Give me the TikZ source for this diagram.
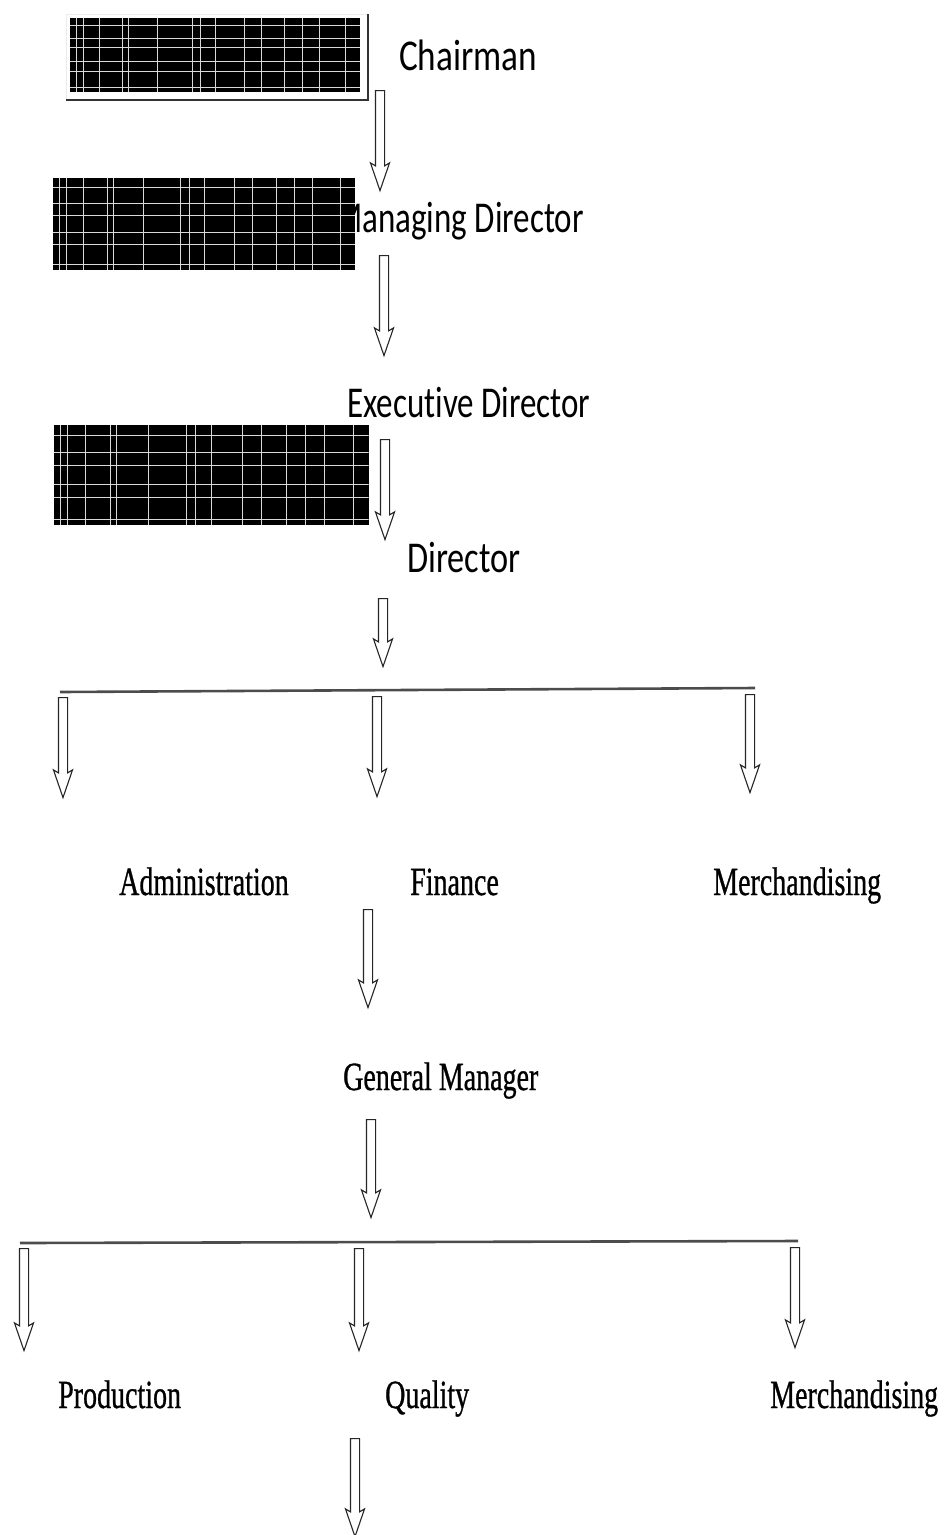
\documentclass[tikz,border=0pt]{standalone}
\usepackage{fontspec}
\usepackage{graphicx}
\setmainfont[FakeBold=0.9]{Liberation Serif}
\newfontfamily\calib[RawFeature={-liga;-dlig;-calt}]{Carlito}
\usetikzlibrary{shapes.arrows,calc}

\tikzset{
  x=1pt, y=-1pt,
  % hollow block arrow pointing downwards
  downarrow/.style={single arrow, draw=black!85, fill=white, line width=1.1pt,
    rotate=-90, inner xsep=0pt, inner ysep=4pt, text height=0pt, text depth=0pt,
    single arrow head extend=5pt, single arrow tip angle=38,
    single arrow head indent=3pt, minimum width=0pt},
  % black panel with a fine light grid
  gridpanel/.style={fill=black, draw=none, inner sep=0pt,
    path picture={
      \path (path picture bounding box.south west) coordinate (sw)
            (path picture bounding box.north east) coordinate (ne);
      \foreach \f in {0.02,0.045,0.1,0.18,0.2,0.3,0.42,0.45,0.5,0.6,0.66,0.74,0.8,0.86,0.95}
        \draw[black!15, line width=0.5pt] ($(sw)!\f!(sw -| ne)$) -- ($(sw |- ne)!\f!(ne)$);
      \foreach \f in {0.06,0.28,0.41,0.6,0.73,0.9}
        \draw[black!15, line width=0.5pt] ($(sw)!\f!(sw |- ne)$) -- ($(sw -| ne)!\f!(ne)$);
    }},
  toplabel/.style={font=\calib\fontsize{44}{48}\selectfont, inner sep=0pt, anchor=base west},
  lowlabel/.style={font=\fontsize{40}{44}\selectfont, inner sep=0pt, anchor=base west},
  branchbar/.style={draw=black!70, line width=2.6pt}
}

\begin{document}
\begin{tikzpicture}
\useasboundingbox (0,0) rectangle (947,1535);

% upper levels (labels first, panels laid over them)
\node[toplabel] (chair) at (399,70) {\scalebox{0.8}[1]{Chairman}};
\node[toplabel] (md) at (334,232) {\scalebox{0.75}[1]{Managing Director}};
\node[toplabel] (ed) at (347,417) {\scalebox{0.75}[1]{Execut\kern0pt ive Director}};
\node[toplabel] (dir) at (407,572) {\scalebox{0.78}[1]{Director}};

\draw[black!8, line width=0.6pt] (66,100) -- (66,14) -- (368,14);
\draw[black!80, line width=1.6pt] (66,100) -- (368,100) -- (368,14);
\node[gridpanel, minimum width=290pt, minimum height=74pt] (p1) at (215,55) {};
\node[gridpanel, minimum width=302pt, minimum height=92pt] (p2) at (204,224) {};
\node[gridpanel, minimum width=315pt, minimum height=100pt] (p3) at (211,475) {};

\node[downarrow, minimum height=100pt] (a1) at (380,134) {};
\node[downarrow, minimum height=100pt] (a2) at (384,299) {};
\node[downarrow, minimum height=100pt] (a3) at (385,483) {};
\node[downarrow, minimum height=68pt] (a4) at (383,626) {};

% departments under the director
\coordinate (b1l) at (60,692);
\coordinate (b1r) at (755,688);
\draw[branchbar] (b1l) -- (b1r);
\node[downarrow, minimum height=100pt] (d1) at (63,741) {};
\node[downarrow, minimum height=100pt] (d2) at (377,740) {};
\node[downarrow, minimum height=98pt] (d3) at (750,737) {};

\node[lowlabel] (adm) at (119,895) {\scalebox{0.7}[1]{Administration}};
\node[lowlabel] (fin) at (410,895) {\scalebox{0.7}[1]{Finance}};
\node[lowlabel] (mer1) at (713,895) {\scalebox{0.7}[1]{Merchandising}};

\node[downarrow, minimum height=98pt] (a5) at (368,952) {};
\node[lowlabel] (gm) at (343,1090) {\scalebox{0.7}[1]{General Manager}};
\node[downarrow, minimum height=98pt] (a6) at (371,1162) {};

% sections under the general manager
\coordinate (b2l) at (20,1243);
\coordinate (b2r) at (798,1241);
\draw[branchbar] (b2l) -- (b2r);
\node[downarrow, minimum height=102pt] (s1) at (24,1293) {};
\node[downarrow, minimum height=102pt] (s2) at (359,1293) {};
\node[downarrow, minimum height=100pt] (s3) at (795,1291) {};

\node[lowlabel] (prod) at (58,1408) {\scalebox{0.7}[1]{Production}};
\node[lowlabel] (qual) at (385,1408) {\scalebox{0.7}[1]{Quality}};
\node[lowlabel] (mer2) at (770,1408) {\scalebox{0.7}[1]{Merchandising}};

\node[downarrow, minimum height=98pt] (a7) at (355,1481) {};
\end{tikzpicture}
\end{document}
